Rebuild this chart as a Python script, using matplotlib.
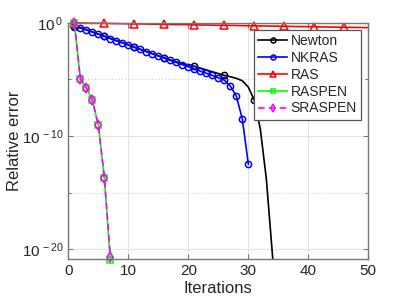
import numpy as np
import matplotlib
matplotlib.use("Agg")
import matplotlib.pyplot as plt
from matplotlib.ticker import FixedLocator, FixedFormatter, NullFormatter

# ---- data (log10 of relative error) ----
newton_it = list(range(1, 36))
newton_exp = [-0.40, -0.45, -0.62, -0.80, -0.99, -1.18, -1.38, -1.57, -1.76, -1.95,
              -2.15, -2.34, -2.53, -2.73, -2.92, -3.11, -3.28, -3.44, -3.58, -3.71,
              -3.84, -4.00, -4.16, -4.32, -4.48, -4.64, -4.76, -4.90, -5.12, -5.68,
              -6.84, -9.40, -13.8, -20.4, -27.0]

nkras_it = list(range(1, 31))
nkras_exp = [-0.25, -0.41, -0.60, -0.80, -0.99, -1.18, -1.38, -1.57, -1.76, -1.95,
             -2.15, -2.34, -2.53, -2.73, -2.92, -3.11, -3.31, -3.50, -3.69, -3.88,
             -4.08, -4.27, -4.46, -4.65, -4.85, -5.07, -5.58, -6.49, -8.50, -12.5]

ras_it = list(range(1, 51))
ras_exp = [0.00, -0.01, -0.02, -0.03, -0.03, -0.04, -0.05, -0.06, -0.07, -0.08,
           -0.09, -0.09, -0.10, -0.11, -0.12, -0.13, -0.14, -0.15, -0.15, -0.16,
           -0.17, -0.18, -0.19, -0.20, -0.21, -0.21, -0.22, -0.23, -0.24, -0.25,
           -0.26, -0.27, -0.27, -0.28, -0.29, -0.30, -0.31, -0.32, -0.33, -0.33,
           -0.34, -0.35, -0.36, -0.37, -0.38, -0.39, -0.39, -0.40, -0.41, -0.42]

raspen_it = [1, 2, 3, 4, 5, 6, 7]
raspen_exp = [0.0, -4.98, -5.75, -6.84, -9.05, -13.7, -21.0]
sraspen_it = [1, 2, 3, 4, 5, 6, 7]
sraspen_exp = [0.0, -4.98, -5.75, -6.84, -9.05, -13.7, -20.7]

labels = ["Newton", "NKRAS", "RAS", "RASPEN", "SRASPEN"]
xticks = [0, 10, 20, 30, 40, 50]
yticks_exp = [-20, -10, 0]
yminor_exp = [-15, -5]

plt.rcParams['font.family'] = ['Liberation Sans', 'DejaVu Sans']
plt.rcParams['mathtext.fontset'] = 'custom'
plt.rcParams['mathtext.rm'] = 'Liberation Sans'
plt.rcParams['mathtext.it'] = 'Liberation Sans'

txt = '#262626'
fig = plt.figure(figsize=(4.07, 3.05), dpi=100)
ax = fig.add_axes([0.168, 0.150, 0.737, 0.776])

def pw(e):
    return [10.0 ** v for v in e]

lw = 1.2
ax.plot(newton_it, pw(newton_exp), '-', color='k', lw=lw, marker='o', ms=4.5,
        mfc='none', mew=1.1, markevery=5, label=labels[0])
ax.plot(nkras_it, pw(nkras_exp), '-', color='#0000ff', lw=lw, marker='o', ms=4.5,
        mfc='none', mew=1.1, label=labels[1])
ax.plot(ras_it, pw(ras_exp), '-', color='#ff0000', lw=lw, marker='^', ms=5.5,
        mfc='none', mew=1.1, markevery=5, label=labels[2], clip_on=False)
ax.plot(raspen_it, pw(raspen_exp), '-', color='#00ff00', lw=lw, marker='s', ms=4,
        mfc='none', mew=1.1, label=labels[3], clip_on=False)
ax.plot(sraspen_it, pw(sraspen_exp), '--', color='#ff00ff', lw=lw, marker='d', ms=4.8,
        mfc='none', mew=1.1, label=labels[4], clip_on=False, dashes=(4, 2.5))

ax.set_yscale('log')
ax.set_xlim(0, 50)
ax.set_ylim(10 ** -20.9, 10 ** 0.03)
ax.xaxis.set_major_locator(FixedLocator(xticks))
ax.set_xticklabels([str(t) for t in xticks])
ax.yaxis.set_major_locator(FixedLocator([10.0 ** e for e in yticks_exp]))
ax.yaxis.set_major_formatter(FixedFormatter([r'$\mathregular{10^{\,%d}}$' % e for e in yticks_exp]))
ax.yaxis.set_minor_locator(FixedLocator([10.0 ** e for e in yminor_exp]))
ax.yaxis.set_minor_formatter(NullFormatter())

ax.grid(True, which='major', color='#e3e3e3', lw=0.8, ls='-')
ax.grid(True, which='minor', axis='y', color='#cfcfcf', lw=0.8, ls=(0, (1, 2)))
ax.set_axisbelow(True)

ax.tick_params(which='both', direction='in', top=True, right=True, labelsize=11,
               colors='#777777', labelcolor=txt)
ax.tick_params(which='major', length=3.5, width=0.8)
ax.tick_params(which='minor', length=2.5, width=0.8)
for s in ax.spines.values():
    s.set_color('#777777')
    s.set_linewidth(1.0)

ax.set_xlabel('Iterations', fontsize=12, color=txt, labelpad=2)
ax.set_ylabel('Relative error', fontsize=12, color=txt, labelpad=0)

leg = ax.legend(loc='upper right', bbox_to_anchor=(0.976, 0.968), borderaxespad=0,
                fontsize=10, handlelength=2.1, handletextpad=0.25, labelspacing=0.2,
                borderpad=0.3, fancybox=False, framealpha=1, edgecolor='#555555',
                markerscale=0.8)
leg.get_frame().set_linewidth(0.9)
for t in leg.get_texts():
    t.set_color(txt)

fig.savefig('out.png', dpi=100)
